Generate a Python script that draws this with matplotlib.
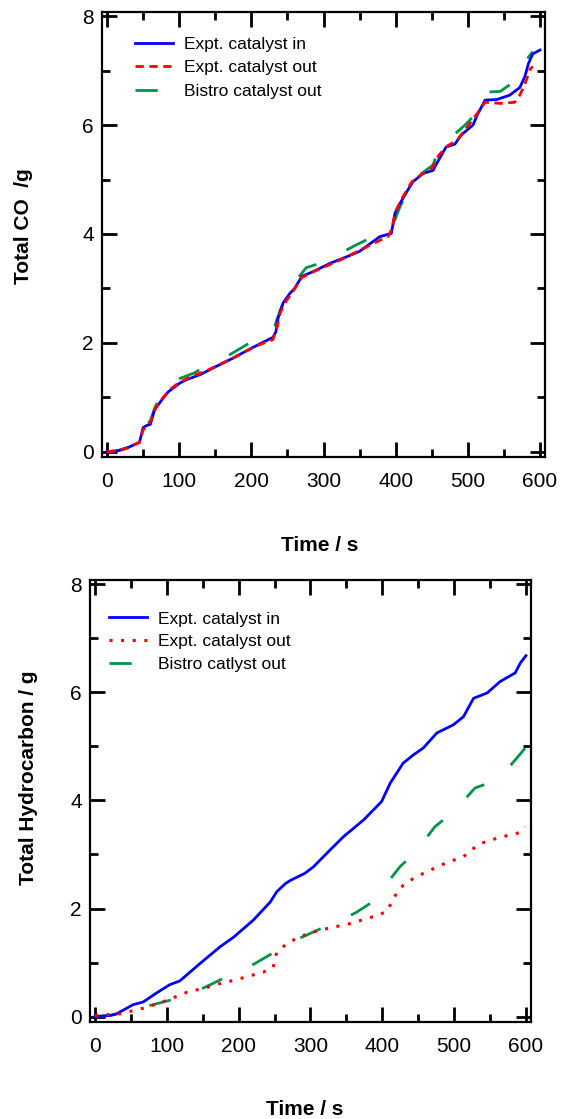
import matplotlib
matplotlib.use("Agg")
import matplotlib.pyplot as plt
from matplotlib.ticker import MultipleLocator

plt.rcParams['font.family'] = ['Liberation Sans', 'DejaVu Sans']

# top panel: total CO
blue_co_t = [0, 10, 20, 30, 45, 50, 55, 60, 66, 76, 85, 92, 101, 110, 130, 152, 175, 200, 230, 234,
             237, 244, 253, 260, 270, 286, 309, 332, 350, 378, 394, 399, 406, 417, 424, 438, 452, 457,
             470, 482, 491, 507, 514, 524, 540, 558, 572, 579, 584, 590, 600]
blue_co = [0, 0.0, 0.03, 0.08, 0.17, 0.44, 0.48, 0.5, 0.77, 0.95, 1.1, 1.17, 1.26, 1.32, 1.42, 1.57,
           1.72, 1.9, 2.1, 2.2, 2.45, 2.73, 2.9, 3.0, 3.22, 3.31, 3.46, 3.58, 3.68, 3.95, 4.01, 4.38,
           4.56, 4.81, 4.96, 5.11, 5.17, 5.3, 5.6, 5.65, 5.82, 6.0, 6.21, 6.46, 6.47, 6.55, 6.69, 6.89,
           7.13, 7.31, 7.38]

red_co_t = [0, 15, 30, 45, 50, 56, 62, 68, 78, 88, 100, 112, 140, 175, 205, 230, 236, 240, 248, 258,
            270, 290, 320, 355, 390, 395, 400, 410, 422, 436, 450, 460, 472, 485, 500, 515, 524, 545,
            565, 572, 579, 586, 590]
red_co = [0, 0.01, 0.07, 0.17, 0.4, 0.47, 0.6, 0.82, 1.0, 1.15, 1.27, 1.35, 1.5, 1.72, 1.93, 2.06,
          2.3, 2.55, 2.76, 2.95, 3.2, 3.33, 3.5, 3.73, 3.96, 4.1, 4.42, 4.68, 4.95, 5.1, 5.2, 5.45,
          5.62, 5.72, 5.98, 6.25, 6.42, 6.4, 6.42, 6.55, 6.75, 7.02, 7.08]

green_co_t = [0, 15, 30, 45, 50, 60, 66, 73, 90, 96, 120, 150, 170, 193, 214, 230, 236, 244, 255, 263,
              276, 288, 313, 341, 364, 385, 399, 406, 413, 424, 440, 452, 458, 470, 479, 496, 507,
              517, 530, 545, 560, 574, 577, 584, 590]
green_co = [0, 0.02, 0.08, 0.2, 0.46, 0.56, 0.8, 0.99, 1.2, 1.32, 1.44, 1.66, 1.78, 1.96, 2.1, 2.2,
            2.45, 2.73, 2.95, 3.16, 3.38, 3.43, 3.57, 3.77, 3.92, 4.07, 4.26, 4.5, 4.69, 4.99, 5.15,
            5.27, 5.51, 5.65, 5.8, 6.0, 6.15, 6.52, 6.61, 6.62, 6.76, 6.9, 7.07, 7.25, 7.35]

# bottom panel: total hydrocarbon
blue_hc_t = [0, 21, 30, 53, 67, 86, 104, 118, 146, 174, 193, 220, 244, 253, 265, 272, 292, 304, 327,
             346, 374, 399, 411, 429, 443, 457, 476, 499, 513, 527, 546, 564, 585, 592, 600]
blue_hc = [0, 0.02, 0.05, 0.22, 0.27, 0.44, 0.59, 0.66, 0.98, 1.29, 1.47, 1.78, 2.12, 2.31, 2.46,
           2.52, 2.65, 2.77, 3.08, 3.33, 3.64, 3.98, 4.32, 4.69, 4.84, 4.97, 5.25, 5.4, 5.55, 5.89,
           5.99, 6.2, 6.36, 6.54, 6.68]

red_hc_t = [0, 35, 53, 72, 100, 128, 156, 174, 193, 234, 248, 253, 267, 285, 313, 355, 385, 406, 418,
            429, 446, 478, 490, 513, 534, 564, 578, 590, 599]
red_hc = [0.02, 0.05, 0.11, 0.17, 0.3, 0.45, 0.54, 0.61, 0.67, 0.82, 0.91, 1.19, 1.35, 1.48, 1.6,
          1.72, 1.84, 1.94, 2.24, 2.43, 2.58, 2.78, 2.85, 2.96, 3.19, 3.32, 3.36, 3.4, 3.51]

green_hc_t = [0, 20, 53, 72, 98, 118, 151, 170, 193, 216, 247, 265, 290, 313, 341, 364, 386, 403,
              425, 446, 473, 503, 529, 550, 578, 599]
green_hc = [0, 0.02, 0.11, 0.19, 0.28, 0.35, 0.53, 0.65, 0.81, 0.93, 1.17, 1.35, 1.48, 1.62, 1.77,
            1.93, 2.12, 2.41, 2.78, 3.04, 3.51, 3.84, 4.23, 4.33, 4.64, 4.97]

labels_co = ['Expt. catalyst in', 'Expt. catalyst out', 'Bistro catalyst out']
labels_hc = ['Expt. catalyst in', 'Expt. catalyst out', 'Bistro catlyst out']

BLUE = '#0000ff'
RED = '#ff0000'
GREEN = '#00934a'

fig = plt.figure(figsize=(5.61, 11.19), dpi=100)
ax1 = fig.add_axes([0.1818, 0.5916, 0.7897, 0.3977])
ax2 = fig.add_axes([0.1604, 0.0867, 0.7861, 0.3950])


def style_axes(ax):
    ax.set_xlim(-7, 607)
    ax.set_ylim(-0.1, 8.08)
    ax.xaxis.set_major_locator(MultipleLocator(100))
    ax.xaxis.set_minor_locator(MultipleLocator(50))
    ax.yaxis.set_major_locator(MultipleLocator(2))
    ax.yaxis.set_minor_locator(MultipleLocator(1))
    ax.tick_params(which='both', direction='in', top=True, right=True, width=2, color='black')
    ax.tick_params(which='major', length=11)
    ax.tick_params(which='minor', length=6)
    ax.tick_params(axis='x', which='major', labelsize=15, pad=11)
    ax.tick_params(axis='y', which='major', labelsize=15, pad=6)
    for s in ax.spines.values():
        s.set_linewidth(1.6)


# top: CO
ax1.plot(blue_co_t, blue_co, color=BLUE, lw=2, label=labels_co[0], zorder=3)
ax1.plot(red_co_t, red_co, color=RED, lw=2, ls=(0, (3, 2)), label=labels_co[1], zorder=4)
ax1.plot(green_co_t, green_co, color=GREEN, lw=2, ls=(0, (8, 12)), label=labels_co[2], zorder=2)
style_axes(ax1)
ax1.set_xlabel('Time / s', fontsize=15, fontweight='bold')
ax1.set_ylabel('Total CO  /g', fontsize=15, fontweight='bold')
ax1.xaxis.set_label_coords(0.492, -0.178)
ax1.yaxis.set_label_coords(-0.155, 0.518)
ax1.legend(loc='upper left', bbox_to_anchor=(0.0745, 0.945), frameon=False, fontsize=12.5,
           handlelength=2.2, handletextpad=0.65, labelspacing=0.5, borderpad=0, borderaxespad=0)

# bottom: hydrocarbon
ax2.plot(blue_hc_t, blue_hc, color=BLUE, lw=2, label=labels_hc[0], zorder=3)
ax2.plot(red_hc_t, red_hc, color=RED, lw=2.2, ls=(0, (1, 2.8)), label=labels_hc[1], zorder=4)
ax2.plot(green_hc_t, green_hc, color=GREEN, lw=2, ls=(0, (8, 12)), label=labels_hc[2], zorder=2)
style_axes(ax2)
ax2.set_xlabel('Time / s', fontsize=15, fontweight='bold')
ax2.set_ylabel('Total Hydrocarbon / g', fontsize=15, fontweight='bold')
ax2.xaxis.set_label_coords(0.486, -0.176)
ax2.yaxis.set_label_coords(-0.118, 0.552)
ax2.legend(loc='upper left', bbox_to_anchor=(0.043, 0.929), frameon=False, fontsize=12.5,
           handlelength=2.2, handletextpad=0.6, labelspacing=0.45, borderpad=0, borderaxespad=0)

fig.savefig('out.png', dpi=100)
